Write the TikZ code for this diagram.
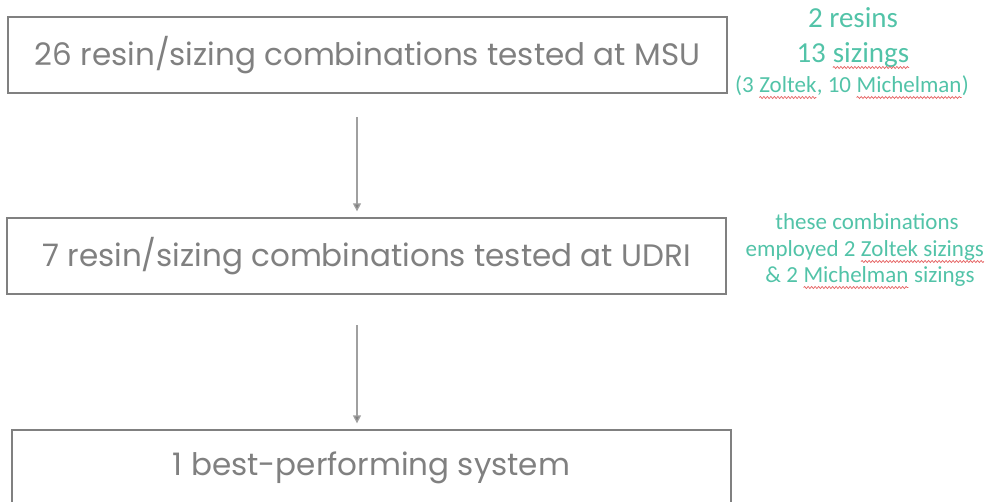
\documentclass[tikz,border=0pt]{standalone}
\usepackage{fontspec}
\setmainfont{Poppins}
\newfontfamily\notefont{Carlito}
\usetikzlibrary{arrows.meta,decorations.pathmorphing}
\definecolor{boxgrey}{RGB}{128,128,128}
\definecolor{txtgrey}{RGB}{128,128,128}
\definecolor{arrgrey}{RGB}{160,160,160}
\definecolor{noteteal}{RGB}{82,195,168}
\definecolor{squigred}{RGB}{228,95,95}
\newcommand\squig[1]{\tikz[baseline=(w.base)]{\node[inner sep=0pt,outer sep=0pt] (w) {#1};
	\draw[squigred,line width=0.7pt,decorate,decoration={snake,amplitude=1pt,segment length=3.5pt}] ([yshift=-4.5pt]w.base west)--([yshift=-4.5pt]w.base east);}}
\tikzset{stage/.style={draw=boxgrey,line width=1.3pt,minimum width=719pt,minimum height=76pt,inner sep=0pt,text=txtgrey,font=\fontsize{31}{36}\selectfont},
	flow/.style={draw=arrgrey,line width=1.3pt,-{Triangle[width=8pt,length=8pt,fill=boxgrey]},shorten >=6pt},
	bignote/.style={anchor=base,inner sep=0pt,text=noteteal,font=\notefont\fontsize{29}{34}\selectfont},
	note/.style={anchor=base,inner sep=0pt,text=noteteal,font=\notefont\fontsize{23}{27}\selectfont}}

\begin{document}
\begin{tikzpicture}[x=1pt,y=-1pt]
		\useasboundingbox (0,0) rectangle (987,502);
		\clip (0,0) rectangle (987,502);
		\node [stage] (msu) at (367.5,55) {26 resin/sizing combinations tested at MSU};
		\node [stage] (udri) at (366.5,256) {7 resin/sizing combinations tested at UDRI};
		\node [stage] (best) at (371.5,468) {1 best-performing system};
		\coordinate (a1) at (357,117);
		\coordinate (a2) at (357,325);
		\draw [flow] (a1)--(a1 |- udri.north);
		\draw [flow] (a2)--(a2 |- best.north);
		% notes on the right
		\node [bignote] (resins) at (853,28) {2 resins};
		\node [bignote] (sizings) at (853,63) {13 \squig{sizings}};
		\node [note] (makers) at (852,93) {(3 \squig{Zoltek}, 10 \squig{Michelman})};
		\node [note] (these) at (867,230) {these combinations};
		\node [note] (employed) at (865,257) {employed 2 \squig{Zoltek sizings}};
		\node [note] (michel) at (870,283) {\& 2 \squig{Michelman} sizings};
	\end{tikzpicture}
\end{document}
